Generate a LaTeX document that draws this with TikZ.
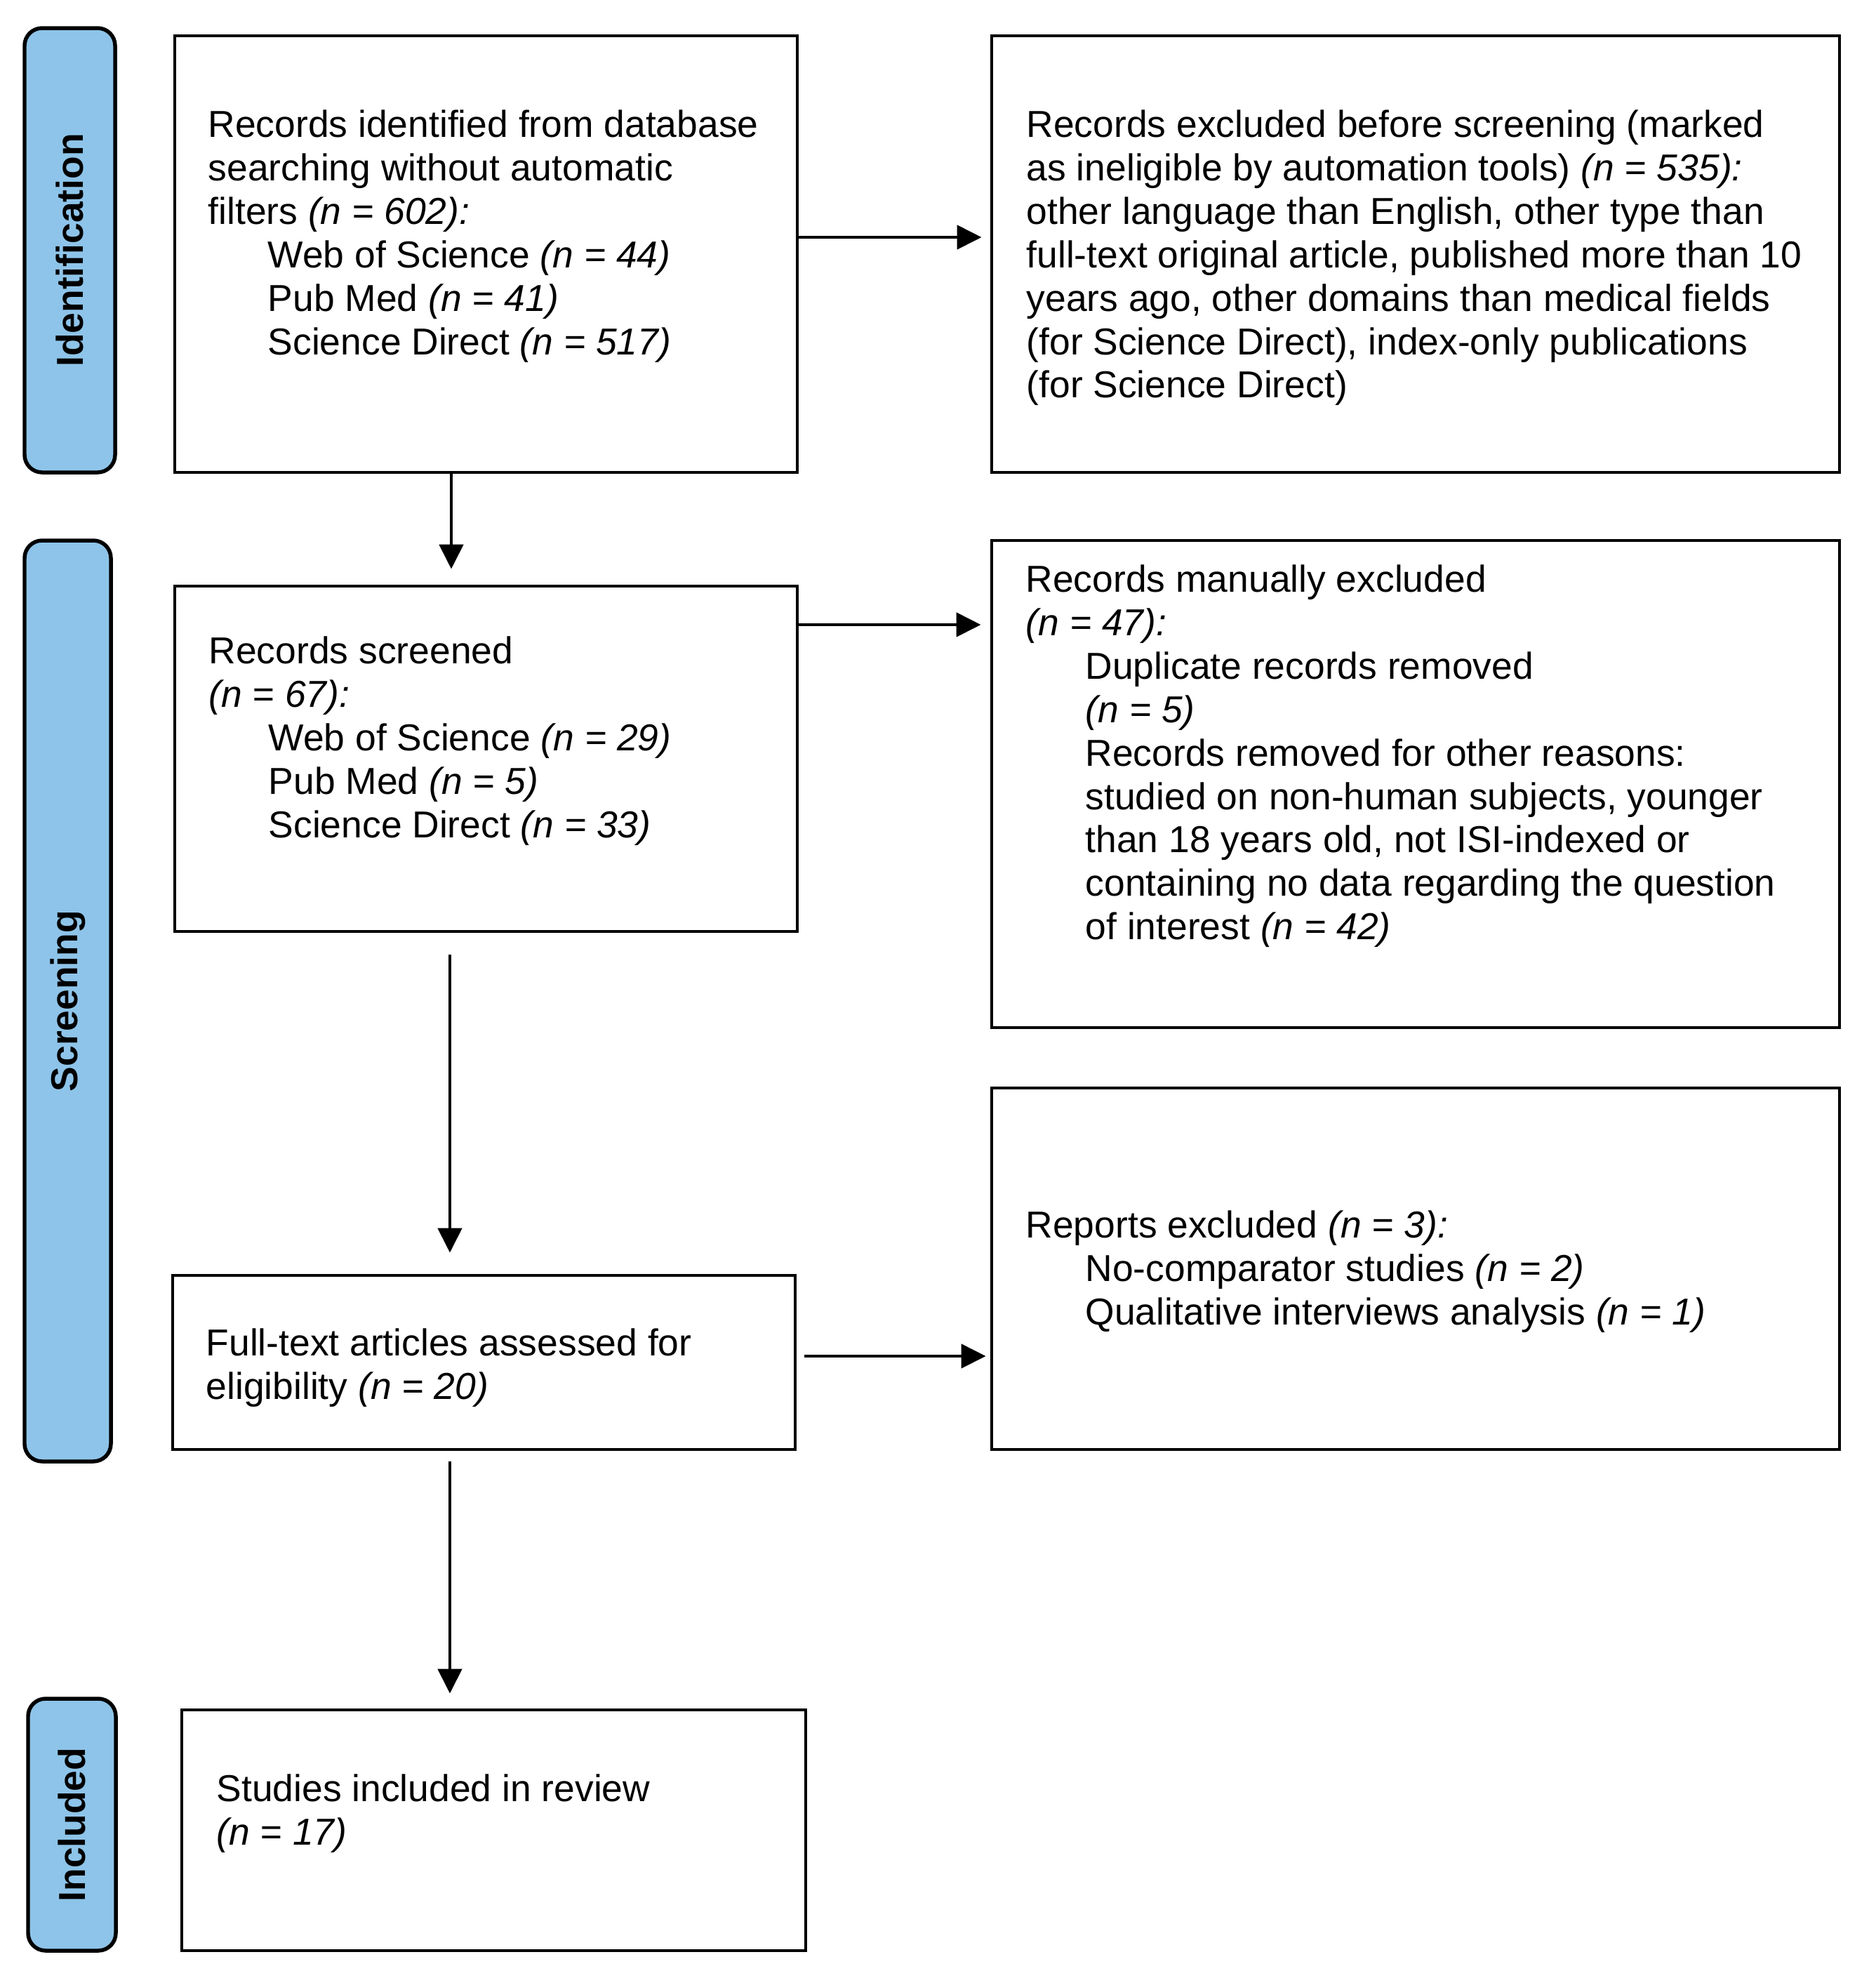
\documentclass[tikz,border=0pt]{standalone}
\usepackage{fontspec}
\setmainfont{Liberation Sans}
\usetikzlibrary{arrows.meta}
\definecolor{tabblue}{RGB}{142,196,233}
\newcommand{\tp}{\rule{0pt}{14pt}}
\newcommand{\ind}{\hspace*{0.85cm}}
\tikzset{
  box/.style={draw=black, line width=0.048cm, inner sep=0pt, fill=white},
  tab/.style={draw=black, line width=0.055cm, rounded corners=0.25cm, fill=tabblue, inner sep=0pt},
  tablabel/.style={rotate=90, inner sep=0pt, font=\fontsize{15.2}{17.6}\selectfont\bfseries},
  txt/.style={anchor=north west, inner sep=0pt, align=left, font=\fontsize{15.2}{17.6}\selectfont},
  arr/.style={line width=0.048cm, -{Triangle[length=0.35cm, width=0.34cm]}}
}
\begin{document}
\begin{tikzpicture}
\useasboundingbox (0,0) rectangle (26.72,-28.08);

% phase tabs
\node[tab, minimum width=1.29cm, minimum height=6.33cm] (tabId) at (0.995,-3.565) {};
\node[tab, minimum width=1.23cm, minimum height=13.12cm] (tabScr) at (0.965,-14.26) {};
\node[tab, minimum width=1.25cm, minimum height=3.59cm] (tabInc) at (1.025,-25.995) {};
\node[tablabel] (lId) at (tabId.center) {Identification};
\node[tablabel] (lScr) at (tabScr.center) {Screening};
\node[tablabel] (lInc) at (tabInc.center) {Included};

% boxes
\node[box, minimum width=8.87cm, minimum height=6.22cm] (box1) at (6.925,-3.62) {};
\node[box, minimum width=12.08cm, minimum height=6.22cm] (box2) at (20.17,-3.62) {};
\node[box, minimum width=8.87cm, minimum height=4.92cm] (box3) at (6.925,-10.81) {};
\node[box, minimum width=12.08cm, minimum height=6.94cm] (box4) at (20.17,-11.17) {};
\node[box, minimum width=8.87cm, minimum height=2.48cm] (box5) at (6.895,-19.41) {};
\node[box, minimum width=12.08cm, minimum height=5.15cm] (box6) at (20.17,-18.075) {};
\node[box, minimum width=8.89cm, minimum height=3.43cm] (box7) at (7.035,-26.075) {};

% texts
\node[txt] (t1) at (2.96,-1.458) {\tp Records identified from database\\
searching without automatic\\
filters \textit{(n = 602):}\\
\ind Web of Science \textit{(n = 44)}\\
\ind Pub Med \textit{(n = 41)}\\
\ind Science Direct \textit{(n = 517)}};

\node[txt] (t2) at (14.62,-1.458) {\tp Records excluded before screening (marked\\
as ineligible by automation tools) \textit{(n = 535):}\\
other language than English, other type than\\
full-text original article, published more than 10\\
years ago, other domains than medical fields\\
(for Science Direct), index-only publications\\
(for Science Direct)};

\node[txt] (t3) at (2.97,-8.958) {\tp Records screened\\
\textit{(n = 67):}\\
\ind Web of Science \textit{(n = 29)}\\
\ind Pub Med \textit{(n = 5)}\\
\ind Science Direct \textit{(n = 33)}};

\node[txt] (t4) at (14.61,-7.938) {\tp Records manually excluded\\
\textit{(n = 47):}\\
\ind Duplicate records removed\\
\ind \textit{(n = 5)}\\
\ind Records removed for other reasons:\\
\ind studied on non-human subjects, younger\\
\ind than 18 years old, not ISI-indexed or\\
\ind containing no data regarding the question\\
\ind of interest \textit{(n = 42)}};

\node[txt] (t5) at (2.93,-18.818) {\tp Full-text articles assessed for\\
eligibility \textit{(n = 20)}};

\node[txt] (t6) at (14.61,-17.138) {\tp Reports excluded \textit{(n = 3):}\\
\ind No-comparator studies \textit{(n = 2)}\\
\ind Qualitative interviews analysis \textit{(n = 1)}};

\node[txt] (t7) at (3.08,-25.168) {\tp Studies included in review\\
\textit{(n = 17)}};

% connector guide coordinates
\coordinate (y1) at (0,-3.38);
\coordinate (y2) at (0,-8.90);
\coordinate (y3) at (0,-19.32);
\coordinate (xa) at (6.43,0);
\coordinate (xb) at (6.41,0);

% connectors
\draw[arr, shorten >=0.12cm] (box1.east |- y1) -- (box2.west |- y1);
\draw[arr, shorten >=0.13cm] (box3.east |- y2) -- (box4.west |- y2);
\draw[arr, shorten <=0.11cm, shorten >=0.06cm] (box5.east |- y3) -- (box6.west |- y3);
\draw[arr, shorten >=0.22cm] (box1.south -| xa) -- (box3.north -| xa);
\draw[arr, shorten <=0.31cm, shorten >=0.30cm] (box3.south -| xb) -- (box5.north -| xb);
\draw[arr, shorten <=0.15cm, shorten >=0.21cm] (box5.south -| xb) -- (box7.north -| xb);
\end{tikzpicture}
\end{document}
